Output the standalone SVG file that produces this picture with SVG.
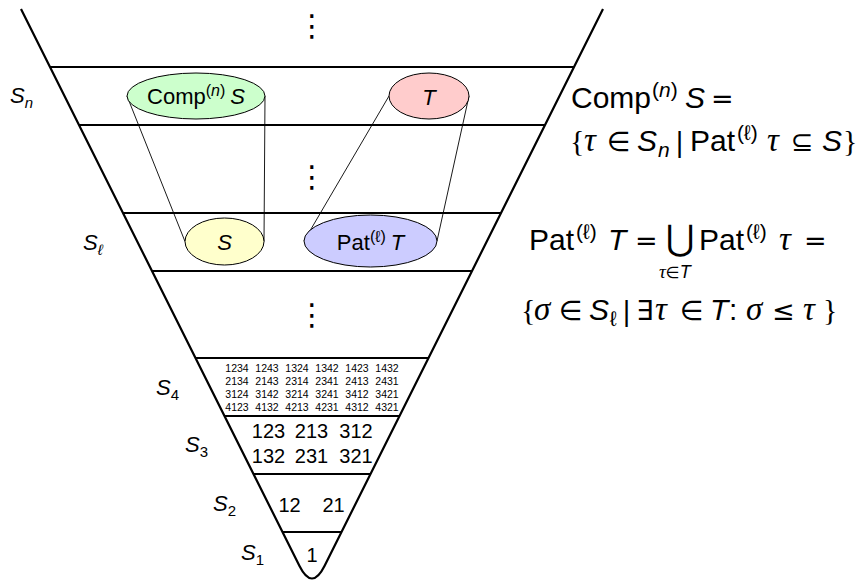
<svg xmlns="http://www.w3.org/2000/svg" width="858" height="580" viewBox="0 0 858 580">
<style>
.edge{fill:none;stroke:#000;stroke-width:2.2;stroke-linejoin:round}
.lvl{stroke:#000;stroke-width:2}
.conn{stroke:#000;stroke-width:0.9;fill:none}
.ell{stroke:#000;stroke-width:1}
text{font-family:"Liberation Sans",Arial,sans-serif;fill:#000}
.i{font-style:italic}
.g{font-family:"Liberation Serif","DejaVu Serif",serif;font-style:italic;font-size:33px}
.b{font-family:"Liberation Serif","DejaVu Serif",serif}
.r{font-family:"DejaVu Sans",sans-serif;font-size:27px}
.dots{font-family:"DejaVu Sans",sans-serif;font-size:30px;text-anchor:middle}
.lab{font-size:22px}
.sub{font-size:15px}
.num{font-size:20px;text-anchor:middle}
.small{font-size:10.5px;text-anchor:middle}
.big{font-size:30px}
.sup{font-size:21px}
.cap{font-size:22px;text-anchor:middle}
</style>
<rect width="858" height="580" fill="#fff"/>
<g id="funnel">
<path class="edge" d="M21,9 L299.5,566 Q312,591 324.5,566 L603,9"/>
<line class="lvl" x1="50" y1="67" x2="574" y2="67"/>
<line class="lvl" x1="79" y1="125" x2="545" y2="125"/>
<line class="lvl" x1="123" y1="213" x2="501" y2="213"/>
<line class="lvl" x1="152" y1="271" x2="472" y2="271"/>
<line class="lvl" x1="195.5" y1="358" x2="428.5" y2="358"/>
<line class="lvl" x1="224.5" y1="416" x2="399.5" y2="416"/>
<line class="lvl" x1="253.5" y1="474" x2="370.5" y2="474"/>
<line class="lvl" x1="282.5" y1="532" x2="341.5" y2="532"/>
<text class="dots" x="312" y="36">⋮</text>
<text class="dots" x="312" y="187">⋮</text>
<text class="dots" x="312" y="325">⋮</text>
</g>
<g id="connectors">
<line class="conn" x1="127" y1="96" x2="185" y2="241.5"/>
<line class="conn" x1="265" y1="96" x2="264" y2="241.5"/>
<line class="conn" x1="389" y1="96" x2="304" y2="241"/>
<line class="conn" x1="469" y1="96" x2="437" y2="241"/>
</g>
<g id="comp">
<ellipse class="ell" cx="196" cy="96" rx="69" ry="23" fill="#ccffcc"/>
<text class="cap" x="196" y="104">Comp<tspan font-size="16" dy="-8">(</tspan><tspan font-size="16" class="i">n</tspan><tspan font-size="16">)</tspan><tspan dy="8" dx="5" class="i">S</tspan></text>
</g>
<g id="T">
<ellipse class="ell" cx="429" cy="96" rx="40" ry="23" fill="#ffcccc"/>
<text class="cap i" x="429" y="105">T</text>
</g>
<g id="S">
<ellipse class="ell" cx="224.5" cy="241.5" rx="39.5" ry="23.5" fill="#ffffcc"/>
<text class="cap i" x="224.5" y="250">S</text>
</g>
<g id="patT">
<ellipse class="ell" cx="370.5" cy="241" rx="66.5" ry="26" fill="#ccccff"/>
<text class="cap" x="370.5" y="250">Pat<tspan font-size="16" dy="-8">(ℓ)</tspan><tspan dy="8" dx="5" class="i">T</tspan></text>
</g>
<g id="labels">
<text class="lab i" x="10" y="103">S<tspan class="sub" dy="5">n</tspan></text>
<text class="lab i" x="83" y="250">S<tspan class="sub" dy="5">ℓ</tspan></text>
<text class="lab i" x="156" y="395">S<tspan class="sub" dy="5" font-style="normal">4</tspan></text>
<text class="lab i" x="185" y="452">S<tspan class="sub" dy="5" font-style="normal">3</tspan></text>
<text class="lab i" x="213" y="511">S<tspan class="sub" dy="5" font-style="normal">2</tspan></text>
<text class="lab i" x="241" y="560">S<tspan class="sub" dy="5" font-style="normal">1</tspan></text>
</g>
<g id="s4">
<text class="small" y="372"><tspan x="237">1234</tspan><tspan x="267">1243</tspan><tspan x="297">1324</tspan><tspan x="327">1342</tspan><tspan x="357">1423</tspan><tspan x="387">1432</tspan></text>
<text class="small" y="385"><tspan x="237">2134</tspan><tspan x="267">2143</tspan><tspan x="297">2314</tspan><tspan x="327">2341</tspan><tspan x="357">2413</tspan><tspan x="387">2431</tspan></text>
<text class="small" y="398"><tspan x="237">3124</tspan><tspan x="267">3142</tspan><tspan x="297">3214</tspan><tspan x="327">3241</tspan><tspan x="357">3412</tspan><tspan x="387">3421</tspan></text>
<text class="small" y="411"><tspan x="237">4123</tspan><tspan x="267">4132</tspan><tspan x="297">4213</tspan><tspan x="327">4231</tspan><tspan x="357">4312</tspan><tspan x="387">4321</tspan></text>
</g>
<g id="s3">
<text class="num" y="438"><tspan x="268.5">123</tspan><tspan x="311.5">213</tspan><tspan x="356">312</tspan></text>
<text class="num" y="463"><tspan x="268.5">132</tspan><tspan x="311.5">231</tspan><tspan x="356">321</tspan></text>
</g>
<g id="s2">
<text class="num" y="512"><tspan x="289.5">12</tspan><tspan x="333.5">21</tspan></text>
</g>
<g id="s1">
<text class="num" x="312" y="562">1</text>
</g>
<g id="formula-comp">
<text class="big" y="108"><tspan x="571">Comp</tspan><tspan class="sup" x="652" y="97">(<tspan class="i">n</tspan>)</tspan><tspan class="i" x="685" y="108">S</tspan><tspan class="r" x="711">=</tspan></text>
<text class="big" y="151"><tspan class="b" x="570">{</tspan><tspan class="g" x="584">τ</tspan><tspan class="r" x="607">∈</tspan><tspan class="i" x="637">S</tspan><tspan class="i sup" x="658" y="157">n</tspan><tspan class="r" x="675" y="151">|</tspan><tspan x="690">Pat</tspan><tspan class="sup" x="737" y="140">(ℓ)</tspan><tspan class="g" x="767" y="151">τ</tspan><tspan class="r" x="791">⊆</tspan><tspan class="i" x="822">S</tspan><tspan class="b" x="843">}</tspan></text>
</g>
<g id="formula-pat">
<text class="big" y="250"><tspan x="529">Pat</tspan><tspan class="sup" x="576" y="239">(ℓ)</tspan><tspan class="i" x="608" y="250">T</tspan><tspan class="r" x="635">=</tspan><tspan font-family="DejaVu Sans" font-size="35" x="666">⋃</tspan><tspan x="699">Pat</tspan><tspan class="sup" x="746" y="239">(ℓ)</tspan><tspan class="g" x="779" y="250">τ</tspan><tspan class="r" x="804">=</tspan></text>
<text y="278" style="font-size:18px"><tspan x="659" style="font-family:'Liberation Serif','DejaVu Serif',serif;font-style:italic;font-size:19px">τ</tspan><tspan style="font-family:'DejaVu Sans',sans-serif;font-size:16px">∈</tspan><tspan class="i">T</tspan></text>
<text class="big" y="320"><tspan class="b" x="521">{</tspan><tspan class="g" x="534">σ</tspan><tspan class="r" x="559">∈</tspan><tspan class="i" x="589">S</tspan><tspan class="sup" x="610" y="326">ℓ</tspan><tspan class="r" x="622" y="320">|</tspan><tspan class="r" x="636">∃</tspan><tspan class="g" x="655">τ</tspan><tspan class="r" x="680">∈</tspan><tspan class="i" x="710">T</tspan><tspan x="729">:</tspan><tspan class="g" x="746">σ</tspan><tspan class="r" x="772">≤</tspan><tspan class="g" x="803">τ</tspan><tspan class="b" x="823">}</tspan></text>
</g>
</svg>
